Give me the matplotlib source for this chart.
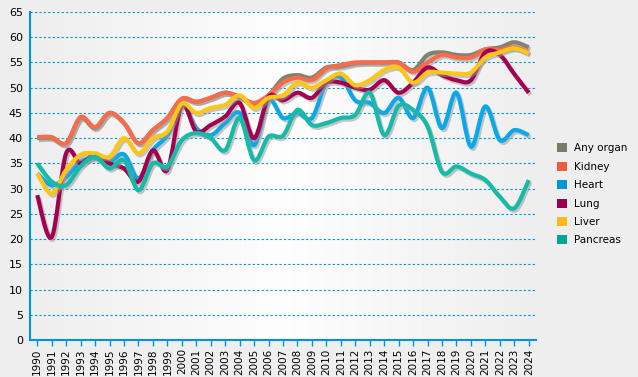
import numpy as np
import matplotlib
matplotlib.use("Agg")
import matplotlib.pyplot as plt
import matplotlib.patheffects as pe
from matplotlib.path import Path
from matplotlib.patches import PathPatch, Patch

years = list(range(1990, 2025))

any_organ = [40, 40, 39, 44, 42, 45, 43, 39, 41.6, 44, 47.8, 47.2, 48, 49, 48.2, 46.8, 48.5, 51.8, 52.5, 52,
             54, 54.2, 54.8, 55, 55, 55, 53.5, 56.5, 57, 56.5, 56.5, 57.6, 58, 59, 58]
kidney = [40.2, 40.2, 39, 44.2, 42.2, 45, 43, 39, 41.6, 44, 47.8, 47.2, 48, 49, 48.2, 47, 48.5, 51, 52, 51.5,
          53.8, 54.5, 55, 55, 55, 54.9, 53.2, 55, 56.5, 56, 56, 57.6, 57.5, 58, 57]
heart = [33, 30.7, 32.3, 35.3, 36, 35.3, 36.8, 32, 37.6, 40.6, 46.6, 42, 40.6, 43, 45, 38.6, 47.5, 44, 45, 44,
         51, 52, 47.5, 47, 45, 48, 44, 50, 42, 49, 38.3, 46.3, 39.6, 41.6, 40.6]
lung = [28.7, 20.4, 37, 35, 36.8, 35, 34, 31.4, 37.6, 33.7, 46.6, 41.3, 42.6, 44.3, 47, 40, 48.2, 47.5, 49, 48,
        51, 51, 50, 49.6, 51.5, 49, 51, 54, 52.5, 51.5, 51.5, 57, 56.5, 52.7, 49]
liver = [33, 29, 33.7, 36.7, 37, 36.3, 40, 37, 40, 41.3, 46.8, 45, 46, 46.6, 48.5, 46, 48, 48.5, 51, 50,
         51.5, 52.8, 50.5, 51.5, 53.5, 54, 51, 53, 53, 52.8, 53, 56, 57, 57.8, 56.8]
pancreas = [35, 31.4, 30.7, 34.4, 36.3, 34, 35.6, 29.7, 35, 34.4, 39.6, 41, 40, 37.6, 44, 35.6, 40.3, 40.5, 45.6, 42.6,
            43, 44, 44.6, 49, 40.6, 46.4, 45.6, 42.3, 33.3, 34.4, 33, 31.7, 28.4, 26.1, 31.7]

names = ["Any organ", "Kidney", "Heart", "Lung", "Liver", "Pancreas"]
series = [any_organ, kidney, heart, lung, liver, pancreas]
line_colors = ["#82826F", "#F86C4C", "#0AA8E8", "#A3004F", "#FFC614", "#16BAA9"]
legend_colors = ["#7A7A68", "#EF5B3F", "#0096D6", "#99004C", "#FFB81C", "#00A597"]
draw_order = [0, 1, 2, 3, 5, 4]


def smooth_path(xs, ys):
    # catmull-rom -> cubic bezier segments
    xs = np.asarray(xs, float)
    ys = np.asarray(ys, float)
    pts = np.column_stack([xs, ys])
    verts = [pts[0]]
    codes = [Path.MOVETO]
    n = len(pts)
    for i in range(n - 1):
        p0 = pts[max(i - 1, 0)]
        p1 = pts[i]
        p2 = pts[i + 1]
        p3 = pts[min(i + 2, n - 1)]
        c1 = p1 + (p2 - p0) / 6.0
        c2 = p2 - (p3 - p1) / 6.0
        verts += [c1, c2, p2]
        codes += [Path.CURVE4] * 3
    return Path(verts, codes)


fig = plt.figure(figsize=(6.38, 3.77), dpi=100, facecolor="#EEEEEE")
ax = fig.add_axes([30 / 638, 37 / 377, 506 / 638, 328 / 377])

# background gradient
grad = np.concatenate([np.linspace(0.93, 0.99, 60), np.linspace(0.99, 0.93, 60)])
grad = np.tile(grad, (2, 1))
ax.imshow(grad, cmap="gray", vmin=0, vmax=1, aspect="auto",
          extent=(1989.5, 2024.5, 0, 65), zorder=0, interpolation="bicubic")

blue = "#0096D6"
for v in range(5, 70, 5):
    ax.axhline(v, color=blue, lw=0.8, ls=(0, (2, 2)), zorder=1)

shadow = [pe.SimpleLineShadow(offset=(1.2, -1.5), shadow_color="#999999", alpha=0.55), pe.Normal()]
for k in draw_order:
    p = PathPatch(smooth_path(years, series[k]), fill=False, edgecolor=line_colors[k],
                  lw=3.0, capstyle="butt", joinstyle="round", zorder=3 + k)
    p.set_path_effects(shadow)
    ax.add_patch(p)

ax.set_xlim(1989.5, 2024.5)
ax.set_ylim(0, 65)
ax.set_xticks(years)
ax.set_xticklabels([str(y) for y in years], rotation=90, fontsize=7.5)
ax.set_yticks(range(0, 70, 5))
ax.tick_params(axis="y", length=0, labelsize=8, pad=5)
ax.tick_params(axis="x", length=4, color=blue, width=1, pad=2)
for s in ["top", "right"]:
    ax.spines[s].set_visible(False)
for s in ["left", "bottom"]:
    ax.spines[s].set_color(blue)
    ax.spines[s].set_linewidth(1.5)

handles = [Patch(facecolor=c, edgecolor="none") for c in legend_colors]
fig.legend(handles, names, loc="upper left", bbox_to_anchor=(548 / 638, 1 - 134 / 377),
           frameon=False, fontsize=7.5, handlelength=0.95, handleheight=0.95,
           handletextpad=0.6, labelspacing=0.8)

fig.savefig("out.png", dpi=100, facecolor=fig.get_facecolor())
